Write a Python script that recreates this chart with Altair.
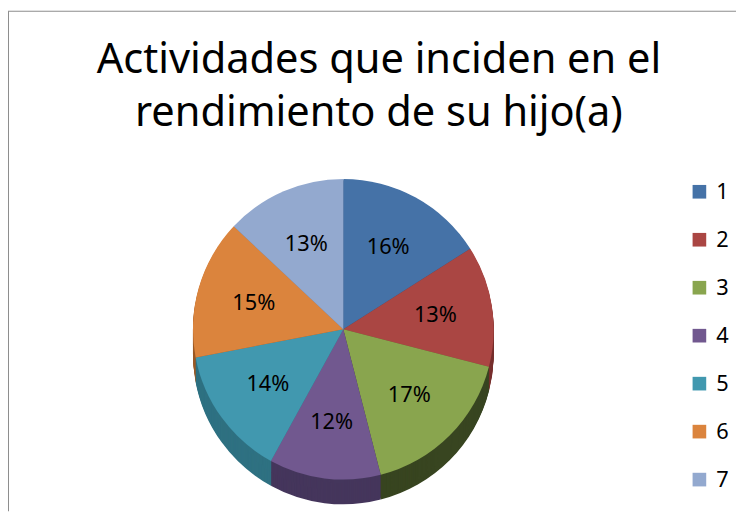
import altair as alt
import pandas as pd

categories = ["1", "2", "3", "4", "5", "6", "7"]
percent = [16, 13, 17, 12, 14, 15, 13]
top_colors = ["#4572A7", "#AA4643", "#89A54E", "#71588F", "#4198AF", "#DB843D", "#93A9CF"]
side_colors = ["#2F4F77", "#78302E", "#384520", "#45365C", "#2F7182", "#9C5A27", "#67789A"]
title_lines = ["Actividades que inciden en el", "rendimiento de su hijo(a)"]

df = pd.DataFrame({"cat": categories, "pct": percent, "idx": list(range(len(categories)))})

W, H = 736, 506
CX, CY = 339, 322
R = 152
DEPTH = 25

base = alt.Chart(df).transform_calculate(label="datum.pct + '%'")

theta = alt.Theta("pct:Q", stack=True)
order = alt.Order("idx:Q")

layers = []
# chart-area frame (left and top edges; the rest lies outside the picture)
frame = alt.Chart(pd.DataFrame({"k": [0]}))
layers.append(frame.mark_rule(color="#8C8C8C", strokeWidth=1).encode(
    x=alt.value(0.5), y=alt.value(0.5), y2=alt.value(H)))
layers.append(frame.mark_rule(color="#8C8C8C", strokeWidth=1).encode(
    x=alt.value(0), x2=alt.value(W), y=alt.value(0.5)))

# side (depth) layers
for d in range(DEPTH, 0, -1):
    layers.append(
        base.mark_arc(outerRadius=R, stroke=None).encode(
            theta=theta,
            order=order,
            color=alt.Color("cat:N", scale=alt.Scale(domain=categories, range=side_colors), legend=None),
            x=alt.value(CX),
            y=alt.value(CY + d),
        )
    )

top = base.mark_arc(outerRadius=R).encode(
    theta=theta,
    order=order,
    color=alt.Color(
        "cat:N",
        scale=alt.Scale(domain=categories, range=top_colors),
        legend=alt.Legend(
            title=None,
            orient="none",
            legendX=688,
            legendY=172,
            symbolType="square",
            symbolSize=190,
            symbolStrokeWidth=0,
            labelFontSize=22,
            labelFont="Noto Sans",
            labelColor="#000000",
            rowPadding=26.5,
            labelOffset=6,
        ),
    ),
    x=alt.value(CX),
    y=alt.value(CY),
)

text = base.mark_text(radius=R * 0.62, fontSize=22, font="Noto Sans", color="#000000").encode(
    theta=theta,
    order=order,
    text="label:N",
    x=alt.value(CX),
    y=alt.value(CY),
)

chart = (
    alt.layer(*layers, top, text)
    .properties(
        width=W,
        height=H,
        padding=0,
        autosize=alt.AutoSizeParams(type="none"),
        title=alt.TitleParams(
            text=title_lines,
            fontSize=42,
            font="Noto Sans",
            fontWeight="normal",
            color="#000000",
            anchor="middle",
            dx=7,
            dy=16,
            lineHeight=54,
            offset=-110,
            orient="top",
        ),
    )
    .resolve_scale(color="independent")
    .configure_view(stroke=None)
)

chart.save("out.html", embed_options={"renderer": "svg", "actions": False})
